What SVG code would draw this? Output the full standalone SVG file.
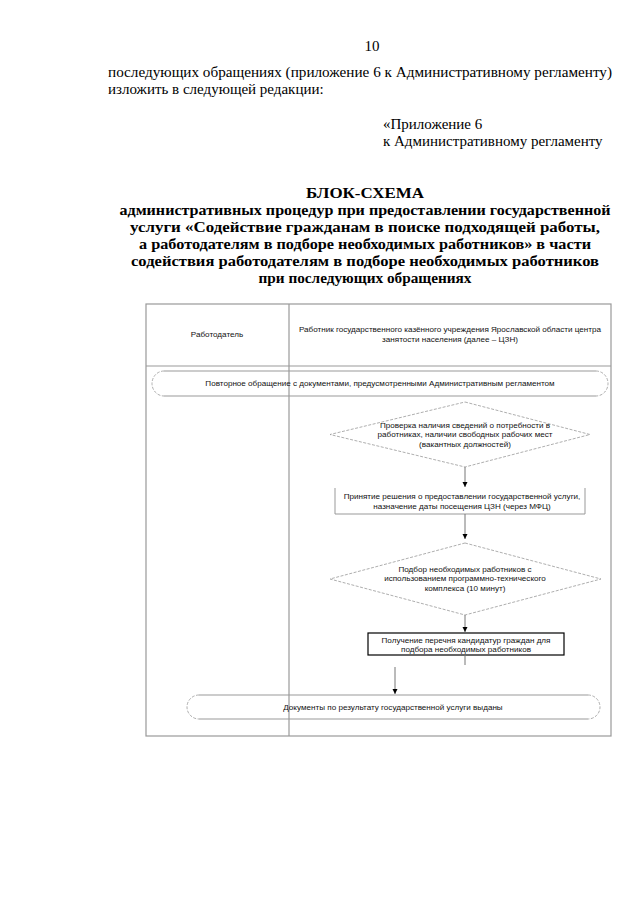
<svg xmlns="http://www.w3.org/2000/svg" width="640" height="905" viewBox="0 0 640 905">
<style>
.doc{font-family:"Liberation Serif","Times New Roman",serif;font-size:15px;fill:#000}
.ttl{font-family:"Liberation Serif","Times New Roman",serif;font-size:15.5px;font-weight:bold;fill:#000;text-anchor:middle}
.t{font-family:"Liberation Sans",Arial,sans-serif;font-size:8.1px;fill:#111;text-anchor:middle}
.grid{stroke:#999;stroke-width:1.2;fill:none}
.solid{stroke:#999;stroke-width:1;fill:none}
.dash{stroke:#999;stroke-width:0.8;fill:none;stroke-dasharray:3 1.5}
.conn{stroke:#777;stroke-width:1;fill:none}
</style>
<defs>
<marker id="ah" viewBox="0 0 10 10" refX="10" refY="5" markerWidth="5" markerHeight="6" orient="auto" markerUnits="userSpaceOnUse">
<path d="M0,0 L10,5 L0,10 Z" fill="#000"/>
</marker>
</defs>
<rect width="640" height="905" fill="#fff"/>

<g id="page-text">
<text class="doc" x="372" y="51" text-anchor="middle">10</text>
<text class="doc" x="108" y="77" textLength="504" lengthAdjust="spacingAndGlyphs">последующих обращениях (приложение 6 к Административному регламенту)</text>
<text class="doc" x="108" y="94">изложить в следующей редакции:</text>
<text class="doc" x="383" y="129">«Приложение 6</text>
<text class="doc" x="383" y="146">к Административному регламенту</text>
</g>

<g id="title">
<text class="ttl" x="365" y="198" textLength="118" lengthAdjust="spacingAndGlyphs">БЛОК-СХЕМА</text>
<text class="ttl" x="365" y="215" textLength="491" lengthAdjust="spacingAndGlyphs">административных процедур при предоставлении государственной</text>
<text class="ttl" x="365" y="232" textLength="470" lengthAdjust="spacingAndGlyphs">услуги «Содействие гражданам в поиске подходящей работы,</text>
<text class="ttl" x="365" y="249" textLength="452" lengthAdjust="spacingAndGlyphs">а работодателям в подборе необходимых работников» в части</text>
<text class="ttl" x="365" y="266" textLength="468" lengthAdjust="spacingAndGlyphs">содействия работодателям в подборе необходимых работников</text>
<text class="ttl" x="365" y="283" textLength="213" lengthAdjust="spacingAndGlyphs">при последующих обращениях</text>
</g>

<g id="table">
<rect class="grid" x="146" y="304" width="465" height="432"/>
<line class="grid" x1="146" y1="366" x2="611" y2="366"/>
<line class="grid" x1="289" y1="304" x2="289" y2="736"/>
<text class="t" x="217" y="337">Работодатель</text>
<text class="t" x="450" y="332">Работник государственного казённого учреждения Ярославской области центра</text>
<text class="t" x="450" y="342">занятости населения (далее – ЦЗН)</text>
</g>

<g id="start">
<path class="solid" d="M164,371 H596 M164,396 H596"/>
<path class="dash" d="M164,371 A12,12.5 0 0 0 164,396 M596,371 A12,12.5 0 0 1 596,396"/>
<text class="t" x="380" y="386">Повторное обращение с документами, предусмотренными Административным регламентом</text>
</g>

<g id="check">
<path class="dash" d="M465,402 L590,434.5 L465,467 L330,434.5 Z"/>
<text class="t" x="465" y="427.5">Проверка наличия сведений о потребности в</text>
<text class="t" x="465" y="437">работниках, наличии свободных рабочих мест</text>
<text class="t" x="465" y="446.5">(вакантных должностей)</text>
</g>

<g id="decision">
<path class="solid" d="M335,488 V514 H585 V488"/>
<text class="t" x="462" y="499">Принятие решения о предоставлении государственной услуги,</text>
<text class="t" x="462" y="508.5">назначение даты посещения ЦЗН (через МФЦ)</text>
</g>

<g id="selection">
<path class="dash" d="M465,543 L601,579 L465,615 L330,579 Z"/>
<text class="t" x="465" y="571.5">Подбор необходимых работников с</text>
<text class="t" x="465" y="581">использованием программно-технического</text>
<text class="t" x="465" y="590.5">комплекса (10 минут)</text>
</g>

<g id="list">
<rect x="368" y="633" width="196" height="22" fill="#fff" stroke="#000" stroke-width="1.2"/>
<text class="t" x="466" y="642.5">Получение перечня кандидатур граждан для</text>
<text class="t" x="466" y="651.5">подбора необходимых работников</text>
</g>

<g id="end">
<path class="solid" d="M199,695 H588 M199,719 H588"/>
<path class="dash" d="M199,695 A12,12 0 0 0 199,719 M588,695 A12,12 0 0 1 588,719"/>
<text class="t" x="393" y="710">Документы по результату государственной услуги выданы</text>
</g>

<g id="connectors">
<line class="conn" x1="465" y1="467" x2="465" y2="487" marker-end="url(#ah)"/>
<line class="conn" x1="465" y1="514" x2="465" y2="539" marker-end="url(#ah)"/>
<line class="conn" x1="465" y1="615" x2="465" y2="632" marker-end="url(#ah)"/>
<line class="conn" x1="465" y1="655" x2="465" y2="665"/>
<line class="conn" x1="395" y1="667" x2="395" y2="694" marker-end="url(#ah)"/>
</g>
</svg>
